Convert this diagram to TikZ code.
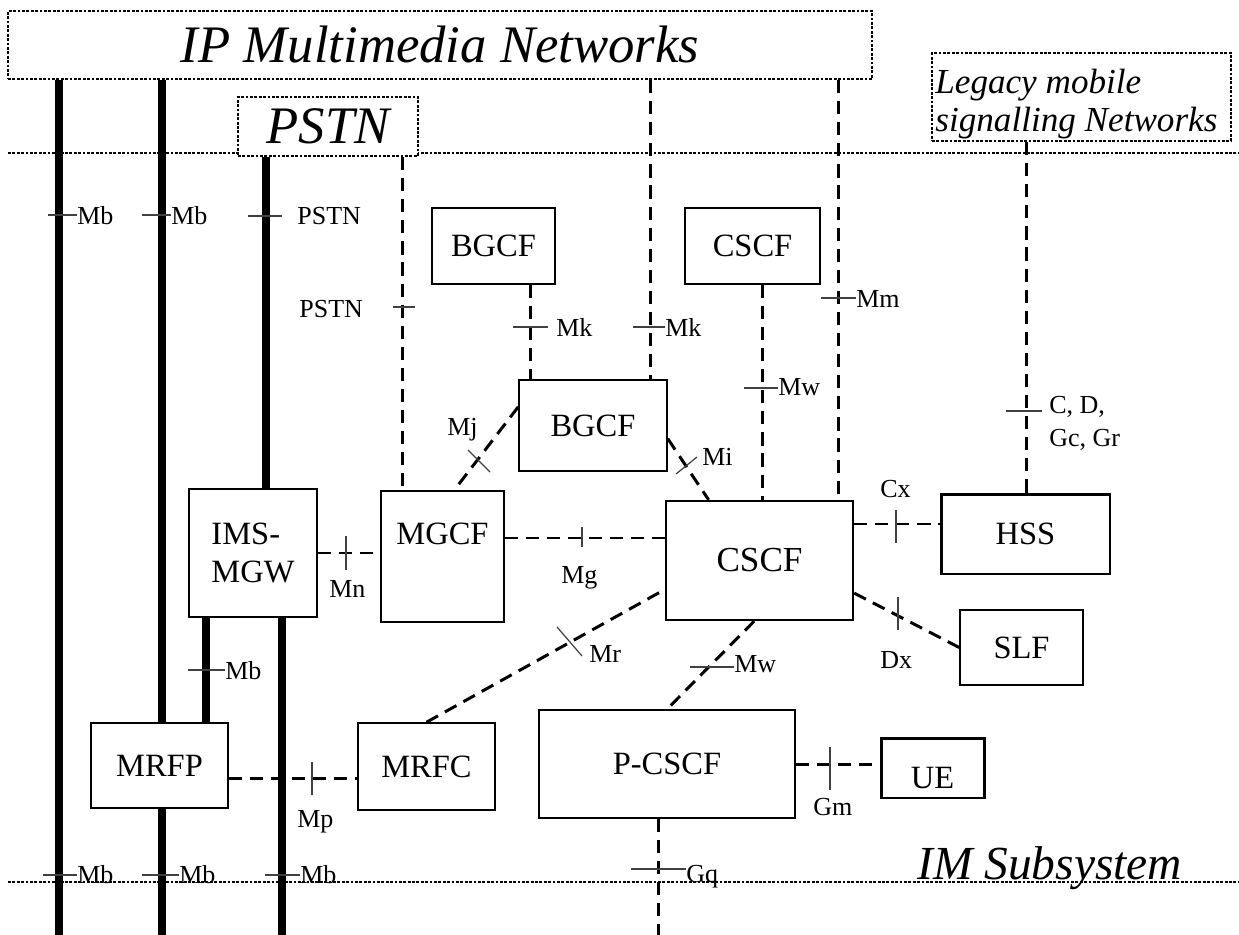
\documentclass[tikz,border=0pt]{standalone}
\usepackage{fontspec}
\setmainfont{Liberation Serif}
\newcommand\boxfont{\fontsize{18.5pt}{22pt}\selectfont}
\newcommand\bigboxfont{\fontsize{20pt}{24pt}\selectfont}
\newcommand\lblfont{\fontsize{14.8pt}{18pt}\selectfont}
\newcommand\netfont{\fontsize{30pt}{34pt}\selectfont\itshape}
\newcommand\legfont{\fontsize{20pt}{22pt}\selectfont\itshape}
\newcommand\imsfont{\fontsize{27pt}{30pt}\selectfont\itshape}

\begin{document}
\begin{tikzpicture}[x=0.02cm,y=-0.02cm,
    box/.style={draw,line width=0.9pt,fill=white,font=\boxfont,inner sep=0pt},
    net/.style={draw,line width=1.2pt,dash pattern=on 1.6pt off 0.9pt,fill=white,inner sep=0pt},
    sepline/.style={line width=1.2pt,dash pattern=on 1.6pt off 0.9pt},
    media/.style={line width=5.1pt},
    sig/.style={line width=1.7pt,dash pattern=on 7.5pt off 4.5pt},
    tick/.style={line width=0.7pt,black!75},
    lbl/.style={font=\lblfont,anchor=base west,inner sep=0pt}]
  \useasboundingbox (0,0) rectangle (1239,935);

  % network borders
  \draw[sepline] (8,153) -- (1239,153);
  \draw[sepline] (8,882) -- (1239,882);

  % external networks
  \node[net,font=\netfont,minimum width=17.28cm,minimum height=1.36cm] (ipnet) at (440,45) {IP Multimedia Networks};
  \node[net,font=\netfont,minimum width=3.6cm,minimum height=1.18cm] (pstn) at (328,126.5) {PSTN};
  \node[net,minimum width=5.98cm,minimum height=1.76cm] (legacy) at (1081.5,97) {};
  \node[lbl,font=\legfont] (legacy1) at (935,94) {Legacy mobile};
  \node[lbl,font=\legfont] (legacy2) at (935,132) {signalling Networks};

  % IMS entities
  \node[box,minimum width=2.46cm,minimum height=1.52cm] (bgcfTop) at (493.5,246) {BGCF};
  \node[box,minimum width=2.7cm,minimum height=1.52cm] (cscfTop) at (752.5,246) {CSCF};
  \node[box,minimum width=2.96cm,minimum height=1.82cm] (bgcf) at (593,425.5) {BGCF};
  \node[box,minimum width=2.56cm,minimum height=2.56cm,align=left] (imsmgw) at (253,553) {IMS-\\MGW};
  \node[box,minimum width=2.46cm,minimum height=2.62cm,text height=12pt,text depth=26.2pt] (mgcf) at (442.5,556.5) {MGCF};
  \node[box,line width=1.3pt,font=\bigboxfont,minimum width=3.74cm,minimum height=2.38cm] (cscf) at (759.5,560.5) {CSCF};
  \node[box,line width=1.7pt,minimum width=3.38cm,minimum height=1.6cm] (hss) at (1025.5,534) {HSS};
  \node[box,minimum width=2.46cm,minimum height=1.5cm] (slf) at (1021.5,647.5) {SLF};
  \node[box,minimum width=2.74cm,minimum height=1.7cm] (mrfp) at (159.5,765.5) {MRFP};
  \node[box,minimum width=2.74cm,minimum height=1.74cm] (mrfc) at (426.5,766.5) {MRFC};
  \node[box,minimum width=5.12cm,minimum height=2.16cm] (pcscf) at (667,764) {P-CSCF};
  \node[box,line width=1.7pt,minimum width=2.06cm,minimum height=1.2cm,text height=22.8pt,text depth=0pt] (ue) at (932.5,768) {UE};
  \node[lbl,font=\imsfont] (imsub) at (917,879) {IM Subsystem};

  % free ends at the bottom
  \coordinate (bot1) at (59,935);
  \coordinate (bot2) at (162,935);
  \coordinate (bot3) at (282,935);
  \coordinate (bot4) at (658,935);

  % bearer paths
  \draw[media] (ipnet.south -| bot1) -- (bot1);
  \draw[media] (ipnet.south -| bot2) -- (mrfp.north -| bot2);
  \draw[media] (mrfp.south -| bot2) -- (bot2);
  \draw[media] (pstn.south -| 266,0) -- (imsmgw.north -| 266,0);
  \draw[media] (imsmgw.south -| 206,0) -- (mrfp.north -| 206,0);
  \draw[media] (imsmgw.south -| bot3) -- (bot3);

  % signalling paths
  \draw[sig] (pstn.south -| 402,0) -- (mgcf.north -| 402,0);
  \draw[sig] (bgcfTop.south -| 530,0) -- (bgcf.north -| 530,0);
  \draw[sig] (ipnet.south -| 650,0) -- (bgcf.north -| 650,0);
  \draw[sig] (cscfTop.south -| 762,0) -- (cscf.north -| 762,0);
  \draw[sig] (ipnet.south -| 838,0) -- (cscf.north -| 838,0);
  \draw[sig] (legacy.south -| 1026,0) -- (hss.north -| 1026,0);
  \draw[sig] (bgcf.166) -- (mgcf.80);
  \draw[sig] (bgcf.-10) -- (cscf.130);
  \draw[sig] (imsmgw.east) -- (imsmgw.east -| mgcf.west);
  \draw[sig] (mgcf.east |- 0,538) -- (cscf.west |- 0,538);
  \draw[sig] (cscf.east |- 0,524) -- (hss.west |- 0,524);
  \draw[sig] (cscf.-19) -- (slf.west);
  \draw[sig] (mrfc.north) -- (cscf.197);
  \draw[sig] (cscf.265) -- (pcscf.north);
  \draw[sig] (mrfp.east |- 0,778) -- (mrfc.west |- 0,778);
  \draw[sig] (pcscf.east) -- (pcscf.east -| ue.west);
  \draw[sig] (pcscf.south -| bot4) -- (bot4);

  % reference points
  \draw[tick] (48,215) -- (77,215);
  \draw[tick] (142,215) -- (171,215);
  \draw[tick] (248,216) -- (282,216);
  \draw[tick] (393,307) -- (415,307);
  \draw[tick] (513,327) -- (548,327);
  \draw[tick] (633,327) -- (665,327);
  \draw[tick] (821,298) -- (856,298);
  \draw[tick] (744,388) -- (778,388);
  \draw[tick] (1006,411) -- (1042,411);
  \draw[tick] (468,450) -- (490,472);
  \draw[tick] (676,474) -- (697,457);
  \draw[tick] (896,510) -- (896,543);
  \draw[tick] (346,536) -- (346,570);
  \draw[tick] (582,527) -- (582,547);
  \draw[tick] (898,597) -- (898,630);
  \draw[tick] (188,670) -- (225,670);
  \draw[tick] (557,627) -- (582,656);
  \draw[tick] (690,667) -- (734,667);
  \draw[tick] (312,762) -- (312,795);
  \draw[tick] (830,747) -- (830,790);
  \draw[tick] (43,875) -- (77,875);
  \draw[tick] (142,875) -- (179,875);
  \draw[tick] (265,875) -- (300,875);
  \draw[tick] (631,869) -- (686,869);

  \node[lbl] (lMb1) at (77,225) {Mb};
  \node[lbl] (lMb2) at (171,225) {Mb};
  \node[lbl] (lPstn1) at (297,225) {PSTN};
  \node[lbl] (lPstn2) at (299,318) {PSTN};
  \node[lbl] (lMk1) at (556,337) {Mk};
  \node[lbl] (lMk2) at (665,337) {Mk};
  \node[lbl] (lMm) at (856,308) {Mm};
  \node[lbl] (lMw1) at (778,396) {Mw};
  \node[lbl] (lCD1) at (1049,413) {C, D,};
  \node[lbl] (lCD2) at (1049,446) {Gc, Gr};
  \node[lbl] (lMj) at (447,435) {Mj};
  \node[lbl] (lMi) at (702,465) {Mi};
  \node[lbl] (lCx) at (880,497) {Cx};
  \node[lbl] (lMn) at (329,597) {Mn};
  \node[lbl] (lMg) at (561,583) {Mg};
  \node[lbl] (lDx) at (880,668) {Dx};
  \node[lbl] (lMb3) at (225,679) {Mb};
  \node[lbl] (lMr) at (589,662) {Mr};
  \node[lbl] (lMw2) at (734,672) {Mw};
  \node[lbl] (lMp) at (297,827) {Mp};
  \node[lbl] (lGm) at (813,815) {Gm};
  \node[lbl] (lMb4) at (77,883) {Mb};
  \node[lbl] (lMb5) at (179,883) {Mb};
  \node[lbl] (lMb6) at (300,883) {Mb};
  \node[lbl] (lGq) at (686,882) {Gq};
\end{tikzpicture}
\end{document}
